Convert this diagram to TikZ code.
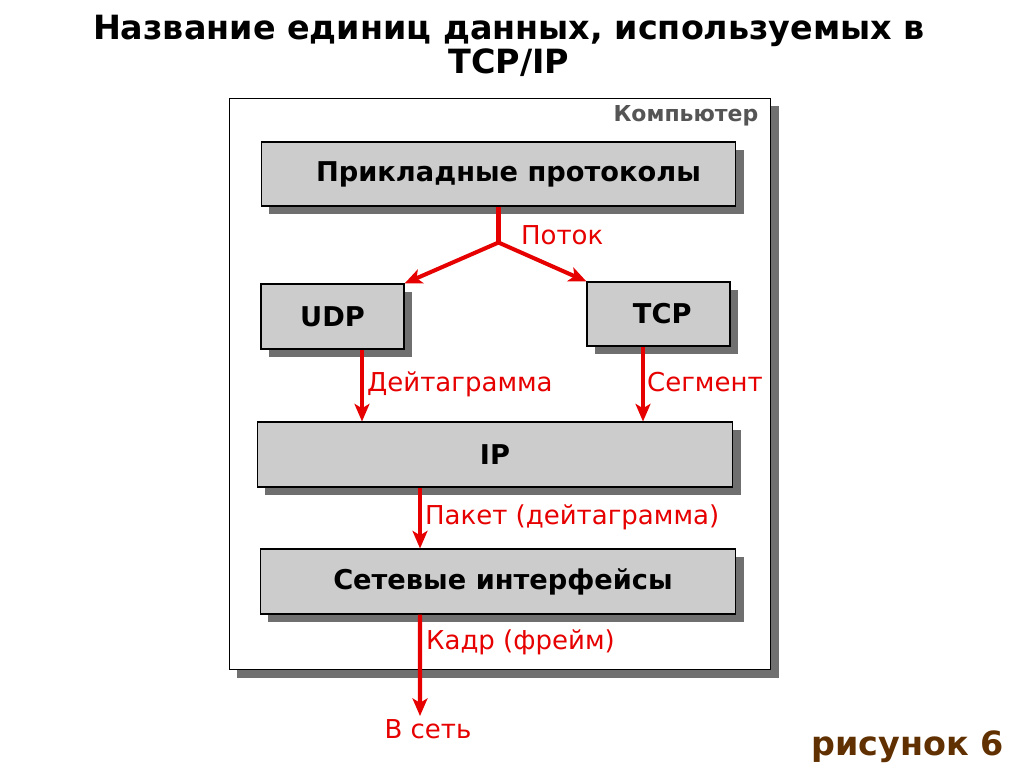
\documentclass[tikz,border=0pt]{standalone}
\usepackage{fontspec}
\setmainfont{DejaVu Sans}
\usetikzlibrary{arrows.meta, positioning, shadows}
\definecolor{flowred}{RGB}{230,0,0}
\definecolor{boxgray}{RGB}{204,204,204}
\definecolor{hostgray}{RGB}{85,85,85}
\definecolor{figbrown}{RGB}{96,48,0}

\begin{document}
\begin{tikzpicture}[
    x=0.02cm, y=-0.02cm,
    node distance=1cm,
    layer/.style={rectangle, draw, fill=boxgray, line width=0.6pt, inner sep=0pt,
        font=\bfseries\fontsize{15.5}{18}\selectfont,
        drop shadow={shadow xshift=0.16cm, shadow yshift=-0.16cm, fill=black!75, opacity=0.75}},
    host/.style={rectangle, draw, fill=white, line width=0.6pt, inner sep=0pt,
        drop shadow={shadow xshift=0.16cm, shadow yshift=-0.16cm, fill=black!75, opacity=0.75}},
    lbl/.style={text=flowred, font=\fontsize{14.8}{17}\selectfont, inner sep=1pt},
    flow/.style={flowred, line width=2.3pt},
    arrow/.style={-{Stealth[length=10pt, width=8.5pt, inset=2.5pt]}, flow}
    ]
\useasboundingbox (0,0) rectangle (1024,768);

% Title
\node (title) [align=center, font=\bfseries\fontsize{19}{19.5}\selectfont] at (509,46)
    {Название единиц данных, используемых в\\TCP/IP};

% Computer frame
\node (host) [host, minimum width=10.84cm, minimum height=11.44cm] at (500,384) {};
\node (hostname) [anchor=north east, text=hostgray, font=\bfseries\fontsize{12.5}{15}\selectfont]
    at ([xshift=-0.14cm, yshift=-0.04cm]host.north east) {Компьютер};

% Layers
\node (app) [layer, minimum width=9.5cm, minimum height=1.28cm] at (498.5,174) {\hspace{0.4cm}Прикладные протоколы};
\node (udp) [layer, minimum width=2.86cm, minimum height=1.3cm] at (332.5,316.5) {UDP};
\node (tcp) [layer, minimum width=2.86cm, minimum height=1.28cm] at (658.5,314) {\hspace{0.15cm}TCP};
\node (ip) [layer, minimum width=9.52cm, minimum height=1.3cm] at (495,454.5) {IP};
\node (net) [layer, minimum width=9.52cm, minimum height=1.3cm] at (498,581.5) {\hspace{0.2cm}Сетевые интерфейсы};

% Connector points
\coordinate (fork) at ([yshift=-0.72cm]app.south);
\coordinate (udpout) at ([xshift=0.59cm]udp.south);
\coordinate (tcpout) at ([xshift=-0.31cm]tcp.south);
\coordinate (ipout) at ([xshift=-1.5cm]ip.south);
\coordinate (netout) at (ipout |- net.south);
\coordinate (wire) at (420,716);

% Arrows
\draw[flow] (app.south) -- (fork);
\draw[arrow] (fork) -- (udp.north east);
\draw[arrow] (fork) -- (tcp.north west);
\draw[arrow] (udpout) -- (udpout |- ip.north);
\draw[arrow] (tcpout) -- (tcpout |- ip.north);
\draw[arrow] (ipout) -- (ipout |- net.north);
\draw[arrow] (netout) -- (wire);

% Labels
\node (stream) [lbl, anchor=west] at (519,235) {Поток};
\node (dgram) [lbl, anchor=west] at (365,384) {Дейтаграмма};
\node (segment) [lbl, anchor=west] at (645,382) {Сегмент};
\node (packet) [lbl, anchor=west] at (423,517) {Пакет (дейтаграмма)};
\node (frame) [lbl, anchor=west] at (424,642) {Кадр (фрейм)};
\node (tonet) [lbl, below=0.03cm of wire, xshift=0.16cm] {В сеть};

\node (fig) [anchor=east, text=figbrown, font=\bfseries\fontsize{19}{22}\selectfont] at (1010,747) {рисунок 6};

\end{tikzpicture}
\end{document}
